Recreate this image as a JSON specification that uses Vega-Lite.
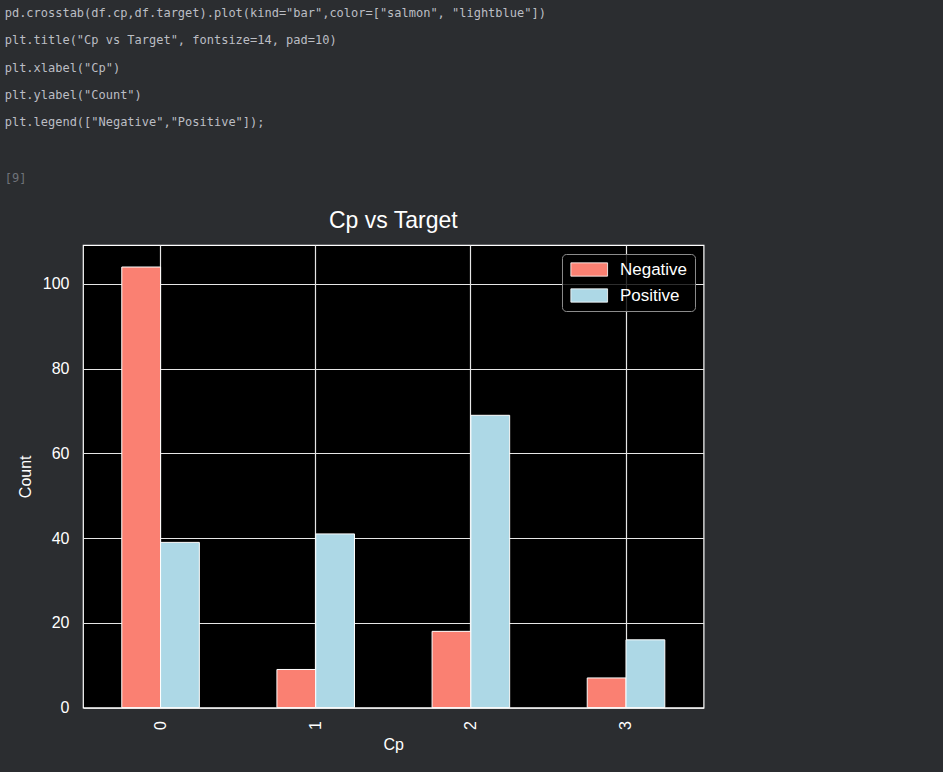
{
  "$schema": "https://vega.github.io/schema/vega-lite/v6.json",
  "background": "#2b2d30",
  "padding": {"left": 4, "top": 7, "right": 245, "bottom": 30},
  "title": {
    "text": [
      "pd.crosstab(df.cp,df.target).plot(kind=\"bar\",color=[\"salmon\", \"lightblue\"])",
      "plt.title(\"Cp vs Target\", fontsize=14, pad=10)",
      "plt.xlabel(\"Cp\")",
      "plt.ylabel(\"Count\")",
      "plt.legend([\"Negative\",\"Positive\"]);"
    ],
    "subtitle": "[9]",
    "anchor": "start",
    "frame": "bounds",
    "dx": -12,
    "font": "DejaVu Sans Mono",
    "fontSize": 12,
    "fontWeight": "normal",
    "color": "#bcbec4",
    "lineHeight": 27.3,
    "baseline": "top",
    "subtitleFont": "DejaVu Sans Mono",
    "subtitleFontSize": 12,
    "subtitleColor": "#6f737a",
    "subtitlePadding": 44,
    "offset": 24
  },
  "vconcat": [
    {
      "width": 620.6,
      "height": 462.6,
      "title": {
        "text": "Cp vs Target",
        "font": "Liberation Sans",
        "fontSize": 23,
        "fontWeight": "normal",
        "color": "white",
        "anchor": "middle",
        "offset": 12
      },
      "data": {
        "values": [
          {"cp": "0", "target": "Negative", "count": 104},
          {"cp": "0", "target": "Positive", "count": 39},
          {"cp": "1", "target": "Negative", "count": 9},
          {"cp": "1", "target": "Positive", "count": 41},
          {"cp": "2", "target": "Negative", "count": 18},
          {"cp": "2", "target": "Positive", "count": 69},
          {"cp": "3", "target": "Negative", "count": 7},
          {"cp": "3", "target": "Positive", "count": 16}
        ]
      },
      "mark": {"type": "bar", "stroke": "white", "strokeWidth": 1},
      "encoding": {
        "x": {
          "field": "cp",
          "type": "nominal",
          "title": "Cp",
          "scale": {"paddingInner": 0.5, "paddingOuter": 0.25},
          "axis": {
            "labelAngle": -90,
            "bandPosition": 0.5,
            "grid": true,
            "ticks": false,
            "domain": false,
            "labelPadding": 13,
            "titlePadding": 7
          }
        },
        "xOffset": {"field": "target", "sort": ["Negative", "Positive"]},
        "y": {
          "field": "count",
          "type": "quantitative",
          "title": "Count",
          "scale": {"domain": [0, 109.2], "nice": false, "zero": true},
          "axis": {
            "values": [0, 20, 40, 60, 80, 100],
            "ticks": false,
            "domain": false,
            "labelPadding": 14,
            "titlePadding": 9
          }
        },
        "color": {
          "field": "target",
          "type": "nominal",
          "scale": {"domain": ["Negative", "Positive"], "range": ["#FA8072", "#ADD8E6"]},
          "legend": {
            "orient": "top-right",
            "offset": 8.5,
            "title": null,
            "symbolType": "M-1,-1H4.52V1H-1Z",
            "symbolSize": 177,
            "symbolStrokeColor": "white",
            "symbolStrokeWidth": 0.8,
            "labelFont": "Liberation Sans",
            "labelFontSize": 17,
            "labelColor": "white",
            "labelOffset": 34,
            "rowPadding": 8,
            "padding": 7,
            "fillColor": "rgba(0,0,0,0.8)",
            "strokeColor": "#8c8c8c",
            "cornerRadius": 4
          }
        }
      }
    }
  ],
  "config": {
    "view": {"fill": "black", "stroke": "white", "strokeWidth": 1.2},
    "axis": {
      "gridColor": "#e6e6e6",
      "gridWidth": 1.2,
      "gridOpacity": 1,
      "labelColor": "white",
      "titleColor": "white",
      "labelFont": "Liberation Sans",
      "labelFontSize": 16,
      "titleFont": "Liberation Sans",
      "titleFontSize": 16,
      "titleFontWeight": "normal"
    }
  }
}
